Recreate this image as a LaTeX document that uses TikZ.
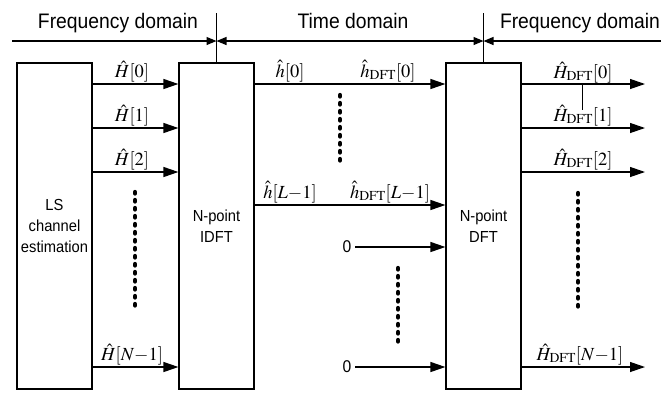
\documentclass[tikz,border=0pt]{standalone}
\usepackage{mathptmx}
\usepackage[no-math]{fontspec}
\setmainfont{Liberation Sans}[FakeStretch=0.92]
\usetikzlibrary{arrows.meta}
\tikzset{domtip/.tip={Triangle[length=10pt,width=8pt]},
         sigtip/.tip={Triangle[length=15pt,width=10pt]}}

\begin{document}
\begin{tikzpicture}[x=1pt,y=-1pt,
  blk/.style={draw, line width=1.2pt, minimum width=75pt, minimum height=326pt,
    inner sep=0pt, align=center, font=\fontsize{16}{21}\selectfont},
  sig/.style={line width=1.2pt, -{sigtip}},
  dom/.style={line width=1.2pt},
  lbl/.style={anchor=base, inner sep=0pt, font=\fontsize{18.5}{20}\selectfont},
  dtext/.style={anchor=base, inner sep=0pt, font=\fontsize{21}{24}\selectfont},
  zero/.style={inner sep=3.5pt, font=\fontsize{17}{20}\selectfont},
  dots/.style={line width=4.3pt, line cap=round, dash pattern=on 1.5pt off 6.5pt}]

\useasboundingbox (0,0) rectangle (669,392);

% processing blocks
\node[blk] (ls)   at (54.5,226)  {LS\\channel\\estimation};
\node[blk] (idft) at (216.5,226) {N-point\\IDFT};
\node[blk] (dft)  at (483.5,226) {N-point\\DFT};

% domain bar
\coordinate (dl) at (12,41);
\coordinate (dr) at (661,41);
\coordinate (s1) at (idft.north |- dl);
\coordinate (s2) at (dft.north |- dl);
\draw[dom] (idft.north) -- ++(0,-49);
\draw[dom] (dft.north) -- ++(0,-49);
\draw[dom, -{domtip}] (dl) -- (s1);
\draw[dom, {domtip}-{domtip}] (s1) -- (s2);
\draw[dom, -{domtip}] (dr) -- (s2);
\node[dtext] (fd1) at (118,28) {Frequency domain};
\node[dtext] (td)  at (353,28) {Time domain};
\node[dtext] (fd2) at (580,28) {Frequency domain};

% row levels
\coordinate (r0) at (0,84);
\coordinate (r1) at (0,128);
\coordinate (r2) at (0,172);
\coordinate (rl) at (0,205);
\coordinate (rn) at (0,367);

% LS -> IDFT
\draw[sig] (ls.east |- r0) -- (idft.west |- r0);
\draw[sig] (ls.east |- r1) -- (idft.west |- r1);
\draw[sig] (ls.east |- r2) -- (idft.west |- r2);
\draw[sig] (ls.east |- rn) -- (idft.west |- rn);
\node[lbl] (a0) at (132,77)  {$\hat{H}[0]$};
\node[lbl] (a1) at (132,121) {$\hat{H}[1]$};
\node[lbl] (a2) at (132,165) {$\hat{H}[2]$};
\node[lbl] (an) at (132,360) {$\hat{H}[N{-}1]$};
\draw[dots] (135,192) -- (135,310);

% IDFT -> DFT
\draw[sig] (idft.east |- r0) -- (dft.west |- r0);
\draw[sig] (idft.east |- rl) -- (dft.west |- rl);
\node[lbl] (b0)  at (290,77)  {$\hat{h}[0]$};
\node[lbl] (c0)  at (388,77)  {$\hat{h}_{\mathrm{DFT}}[0]$};
\node[lbl] (bl)  at (290,198) {$\hat{h}[L{-}1]$};
\node[lbl] (cl)  at (390,198) {$\hat{h}_{\mathrm{DFT}}[L{-}1]$};
\draw[dots] (340,95) -- (340,162);
\node[zero] (o1) at (347,247) {0};
\node[zero] (o2) at (347,367) {0};
\draw[sig] (o1.east) -- (dft.west |- o1);
\draw[sig] (o2.east) -- (dft.west |- o2);
\draw[dots] (398,268) -- (398,348);

% DFT outputs
\coordinate (e0) at (645,84);
\coordinate (e1) at (645,128);
\coordinate (e2) at (645,172);
\coordinate (en) at (645,367);
\draw[sig] (dft.east |- e0) -- (e0);
\draw[sig] (dft.east |- e1) -- (e1);
\draw[sig] (dft.east |- e2) -- (e2);
\draw[sig] (dft.east |- en) -- (en);
\node[lbl] (d0) at (583,78)  {$\hat{H}_{\mathrm{DFT}}[0]$};
\node[lbl] (d1) at (583,121) {$\hat{H}_{\mathrm{DFT}}[1]$};
\node[lbl] (d2) at (583,165) {$\hat{H}_{\mathrm{DFT}}[2]$};
\node[lbl] (dn) at (580,360) {$\hat{H}_{\mathrm{DFT}}[N{-}1]$};
\draw[line width=1pt] (582,84) -- (582,110);
\draw[dots] (578,193) -- (578,310);
\end{tikzpicture}
\end{document}
